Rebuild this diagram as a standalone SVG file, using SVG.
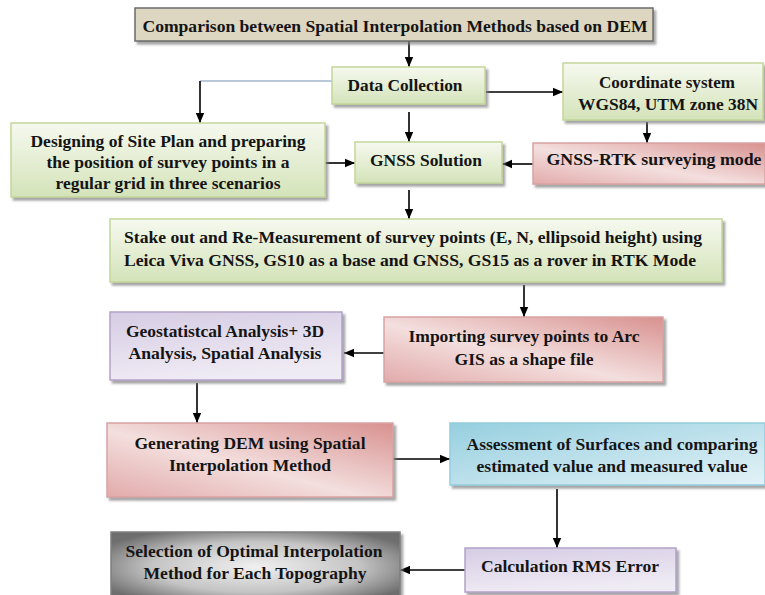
<svg xmlns="http://www.w3.org/2000/svg" width="765" height="595" viewBox="0 0 765 595">
<defs>
<style>
text{font-family:'Liberation Serif','Times New Roman',serif;font-weight:bold;font-size:17.5px;fill:#141414;text-anchor:middle}
.box{filter:url(#sh)}
.green{fill:url(#gGreen);stroke:#c3d69b;stroke-width:1.5}
.pink{fill:url(#gPink);stroke:#d8a3a3;stroke-width:1.5}
.lav{fill:url(#gLav);stroke:#b3a2c7;stroke-width:1.5}
.blue{fill:url(#gBlue);stroke:#93cddd;stroke-width:1.5}
.gray{fill:url(#gGray);stroke:#7f7f7f;stroke-width:1.5}
.title{fill:#ddd6c1;stroke:#6b6b6b;stroke-width:1.5}
.ca{fill:none;stroke:#000;stroke-width:1.6;marker-end:url(#ah)}
</style>
<filter id="sh" x="-5%" y="-10%" width="115%" height="130%">
<feDropShadow dx="2.5" dy="3" stdDeviation="1.2" flood-color="#808080" flood-opacity="0.7"/>
</filter>
<marker id="ah" markerUnits="userSpaceOnUse" markerWidth="10" markerHeight="10" viewBox="0 0 10 10" refX="10" refY="5" orient="auto">
<path d="M0,0.8 L10,5 L0,9.2 Z" fill="#000"/>
</marker>
<linearGradient id="gGreen" x1="0" y1="0" x2="0" y2="1">
<stop offset="0" stop-color="#f6f9ef"/><stop offset="1" stop-color="#d4e3b9"/>
</linearGradient>
<linearGradient id="gPink" x1="0" y1="1" x2="1" y2="0">
<stop offset="0" stop-color="#e2aaaa"/><stop offset="0.45" stop-color="#f3dfde"/><stop offset="1" stop-color="#d8918f"/>
</linearGradient>
<linearGradient id="gLav" x1="0" y1="0" x2="0.3" y2="1">
<stop offset="0" stop-color="#d6cce4"/><stop offset="1" stop-color="#efebf4"/>
</linearGradient>
<linearGradient id="gBlue" x1="0" y1="0" x2="1" y2="1">
<stop offset="0" stop-color="#96cfdf"/><stop offset="1" stop-color="#e3f2f7"/>
</linearGradient>
<radialGradient id="gGray" cx="0.5" cy="0.5" r="0.6">
<stop offset="0" stop-color="#f0f0f0"/><stop offset="0.6" stop-color="#c4c4c4"/><stop offset="1" stop-color="#6e6e6e"/>
</radialGradient>
</defs>

<g id="connectors">
<path class="ca" d="M409,41 V67"/>
<path d="M332,81 H200" fill="none" stroke="#a3b6cc" stroke-width="1.6"/>
<path class="ca" d="M200,81 V123"/>
<path class="ca" d="M409,112 V142"/>
<path class="ca" d="M486,92 H563"/>
<path class="ca" d="M647,122 V143"/>
<path class="ca" d="M533,164 H502"/>
<path class="ca" d="M325,163 H355"/>
<path class="ca" d="M409,190 V219"/>
<path class="ca" d="M524,285 V317"/>
<path class="ca" d="M384,353 H344"/>
<path class="ca" d="M197,383 V423"/>
<path class="ca" d="M393,459 H450"/>
<path class="ca" d="M557,489 V548"/>
<path class="ca" d="M465,570 H400"/>
</g>

<g font-family="Liberation Serif, Times New Roman, serif">
<g id="title">
<rect class="box title" x="135" y="8" width="518" height="33"/>
<text x="395" y="32" textLength="505" lengthAdjust="spacingAndGlyphs">Comparison between Spatial Interpolation Methods based on DEM</text>
</g>

<g id="data-collection">
<rect class="box green" x="332" y="67" width="153" height="37"/>
<text x="405" y="91" textLength="115" lengthAdjust="spacingAndGlyphs">Data Collection</text>
</g>

<g id="designing">
<rect class="box green" x="11" y="123" width="314" height="74"/>
<text x="168" y="147" textLength="275" lengthAdjust="spacingAndGlyphs">Designing of Site Plan and preparing</text>
<text x="168" y="168" textLength="243" lengthAdjust="spacingAndGlyphs">the position of survey points in a</text>
<text x="168" y="189" textLength="225" lengthAdjust="spacingAndGlyphs">regular grid in three scenarios</text>
</g>

<g id="gnss-solution">
<rect class="box green" x="355" y="142" width="147" height="41"/>
<text x="426" y="166" textLength="112" lengthAdjust="spacingAndGlyphs">GNSS Solution</text>
</g>

<g id="coordinate-system">
<rect class="box green" x="563" y="63" width="200" height="57"/>
<text x="667" y="88" textLength="136" lengthAdjust="spacingAndGlyphs">Coordinate system</text>
<text x="668" y="110" textLength="180" lengthAdjust="spacingAndGlyphs">WGS84, UTM zone 38N</text>
</g>

<g id="gnss-rtk">
<rect class="box pink" x="533" y="143" width="232" height="41"/>
<text x="654" y="165" textLength="215" lengthAdjust="spacingAndGlyphs">GNSS-RTK surveying mode</text>
</g>

<g id="stake-out">
<rect class="box green" x="110" y="219" width="612" height="63"/>
<text x="413" y="243" textLength="578" lengthAdjust="spacingAndGlyphs">Stake out and Re-Measurement of survey points (E, N, ellipsoid height) using</text>
<text x="410" y="266" textLength="572" lengthAdjust="spacingAndGlyphs">Leica Viva GNSS, GS10 as a base and GNSS, GS15 as a rover in RTK Mode</text>
</g>

<g id="importing">
<rect class="box pink" x="384" y="317" width="279" height="65"/>
<text x="524" y="342" textLength="231" lengthAdjust="spacingAndGlyphs">Importing survey points to Arc</text>
<text x="524" y="365" textLength="139" lengthAdjust="spacingAndGlyphs">GIS as a shape file</text>
</g>

<g id="geostatistical">
<rect class="box lav" x="110" y="312" width="232" height="68"/>
<text x="225" y="337" textLength="198" lengthAdjust="spacingAndGlyphs">Geostatistcal Analysis+ 3D</text>
<text x="225" y="359" textLength="193" lengthAdjust="spacingAndGlyphs">Analysis, Spatial Analysis</text>
</g>

<g id="generating-dem">
<rect class="box pink" x="107" y="423" width="286" height="74"/>
<text x="250" y="449" textLength="231" lengthAdjust="spacingAndGlyphs">Generating DEM using Spatial</text>
<text x="250" y="471" textLength="162" lengthAdjust="spacingAndGlyphs">Interpolation Method</text>
</g>

<g id="assessment">
<rect class="box blue" x="450" y="423" width="315" height="62"/>
<text x="612" y="450" textLength="291" lengthAdjust="spacingAndGlyphs">Assessment of Surfaces and comparing</text>
<text x="612" y="472" textLength="271" lengthAdjust="spacingAndGlyphs">estimated value and measured value</text>
</g>

<g id="calculation-rms">
<rect class="box lav" x="465" y="548" width="211" height="44"/>
<text x="570" y="572" textLength="178" lengthAdjust="spacingAndGlyphs">Calculation RMS Error</text>
</g>

<g id="selection">
<rect class="box gray" x="111" y="532" width="289" height="70"/>
<text x="254" y="557" textLength="257" lengthAdjust="spacingAndGlyphs">Selection of Optimal Interpolation</text>
<text x="255" y="579" textLength="223" lengthAdjust="spacingAndGlyphs">Method for Each Topography</text>
</g>
</g>
</svg>
